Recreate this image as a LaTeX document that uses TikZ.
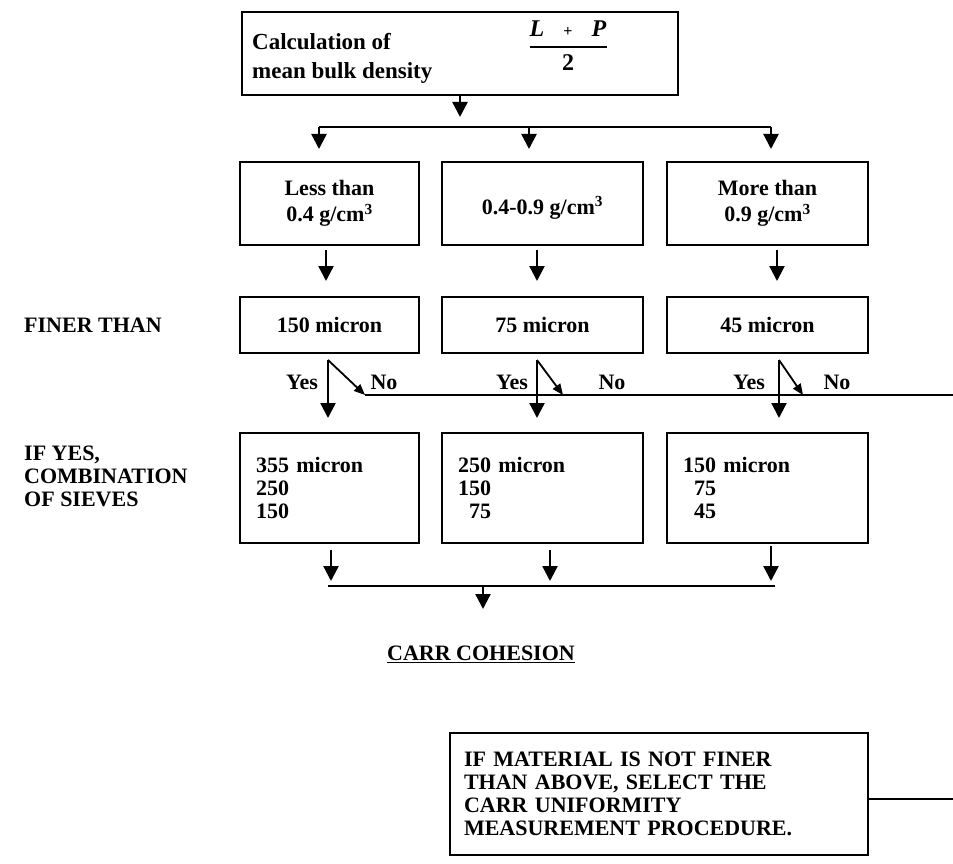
\documentclass[tikz,border=0pt]{standalone}
\usepackage{fontspec}
\setmainfont{Liberation Serif}
\usetikzlibrary{arrows.meta}
\begin{document}
\begin{tikzpicture}[x=1pt,y=-1pt,
  every node/.style={font=\fontsize{22}{23}\selectfont\bfseries, inner sep=0pt},
  box/.style={draw, line width=2.6pt},
  conn/.style={line width=2.3pt},
  arr/.style={conn, -{Triangle[width=15pt,length=15pt]}},
  sarr/.style={line width=1.8pt, -{Triangle[width=9pt,length=11pt]}},
  lbl/.style={align=left, anchor=west}]
\useasboundingbox (0,0) rectangle (953,864);

% top box
\node[box, minimum width=436pt, minimum height=83pt] (top) at (460,53.5) {};
\node[anchor=west, align=left, font=\fontsize{23}{29}\selectfont\bfseries] (calc) at (252,58) {Calculation of\\mean bulk density};
\node[font=\fontsize{24}{24}\selectfont\bfseries] (frac) at (568,47) {\setlength{\arrayrulewidth}{2pt}\renewcommand{\arraystretch}{1.35}\begin{tabular}{@{}c@{}}\textit{L}\hspace{0.8em}{\fontsize{16}{16}\selectfont +}\hspace{0.8em}\textit{P}\\\hline 2\end{tabular}};

% distribution
\coordinate (dL) at (319,127);
\coordinate (dM) at (529,127);
\coordinate (dR) at (771,127);
\coordinate (tTip) at (460,117);
\coordinate (dLt) at (319,149);
\coordinate (dMt) at (529,149);
\coordinate (dRt) at (771,149);
\draw[arr] (top.south) -- (tTip);
\draw[conn] (dL) -- (dR);
\draw[arr] (dL) -- (dLt);
\draw[arr] (dM) -- (dMt);
\draw[arr] (dR) -- (dRt);

% row 1
\node[box, minimum width=179pt, minimum height=83pt, align=center, font=\fontsize{22}{26}\selectfont\bfseries] (a1) at (329.5,203.5) {Less than\\0.4 g/cm\textsuperscript{3}};
\node[box, minimum width=201pt, minimum height=83pt, align=center, font=\fontsize{22}{26}\selectfont\bfseries] (a2) at (542.5,203.5) {\mbox{}\\0.4-0.9 g/cm\textsuperscript{3}};
\node[box, minimum width=201pt, minimum height=83pt, align=center, font=\fontsize{22}{26}\selectfont\bfseries] (a3) at (767.5,203.5) {More than\\0.9 g/cm\textsuperscript{3}};

% arrows row1 -> row2
\coordinate (r1s) at (326,250); \coordinate (r1t) at (326,281);
\coordinate (r2s) at (537,250); \coordinate (r2t) at (537,281);
\coordinate (r3s) at (777,250); \coordinate (r3t) at (777,281);
\draw[arr] (r1s) -- (r1t);
\draw[arr] (r2s) -- (r2t);
\draw[arr] (r3s) -- (r3t);

% row 2
\node[lbl] (finer) at (24,325) {FINER THAN};
\node[box, minimum width=179pt, minimum height=56pt] (f1) at (329.5,325) {150 micron};
\node[box, minimum width=201pt, minimum height=56pt] (f2) at (542.5,325) {75 micron};
\node[box, minimum width=201pt, minimum height=56pt] (f3) at (767.5,325) {45 micron};

% yes / no
\coordinate (y1s) at (328,360); \coordinate (y1t) at (328,418); \coordinate (n1t) at (365,395);
\coordinate (y2s) at (537,360); \coordinate (y2t) at (537,418); \coordinate (n2t) at (563,395);
\coordinate (y3s) at (779,360); \coordinate (y3t) at (779,418); \coordinate (n3t) at (803,395);
\coordinate (nend) at (953,395);
\draw[conn] (n1t) -- (nend);
\draw[arr] (y1s) -- (y1t);
\draw[arr] (y2s) -- (y2t);
\draw[arr] (y3s) -- (y3t);
\draw[sarr] (y1s) -- (n1t);
\draw[sarr] (y2s) -- (n2t);
\draw[sarr] (y3s) -- (n3t);
\node (yes1) at (302,382) {Yes};
\node (no1) at (384,382) {No};
\node (yes2) at (512,382) {Yes};
\node (no2) at (612,382) {No};
\node (yes3) at (749,382) {Yes};
\node (no3) at (837,382) {No};

% row 3
\node[lbl] (ifyes) at (24,476) {IF YES,\\COMBINATION\\OF SIEVES};
\node[box, minimum width=179pt, minimum height=110pt, text width=147pt, inner xsep=16pt, align=left] (c1) at (329.5,488) {355 micron\\250\\150};
\node[box, minimum width=201pt, minimum height=110pt, text width=169pt, inner xsep=16pt, align=left] (c2) at (542.5,488) {250 micron\\150\\\phantom{1}75};
\node[box, minimum width=201pt, minimum height=110pt, text width=169pt, inner xsep=16pt, align=left] (c3) at (767.5,488) {150 micron\\\phantom{1}75\\\phantom{1}45};

% collect
\coordinate (k1s) at (331,550); \coordinate (k1t) at (331,581);
\coordinate (k2s) at (550,550); \coordinate (k2t) at (550,581);
\coordinate (k3s) at (771,546); \coordinate (k3t) at (771,581);
\coordinate (kL) at (328,586); \coordinate (kR) at (775,586);
\coordinate (kM) at (483,586); \coordinate (kMt) at (483,609);
\draw[arr] (k1s) -- (k1t);
\draw[arr] (k2s) -- (k2t);
\draw[arr] (k3s) -- (k3t);
\draw[conn] (kL) -- (kR);
\draw[arr] (kM) -- (kMt);

\node (carr) at (481,654) {\underline{CARR COHESION}};

% note box
\node[box, minimum width=418pt, minimum height=122pt, text width=390pt, inner xsep=14pt, align=left] (note) at (659,794) {IF MATERIAL IS NOT FINER\\THAN ABOVE, SELECT THE\\CARR UNIFORMITY\\MEASUREMENT PROCEDURE.};
\coordinate (noteR) at (953,799);
\draw[conn] (note.east |- noteR) -- (noteR);
\end{tikzpicture}
\end{document}
